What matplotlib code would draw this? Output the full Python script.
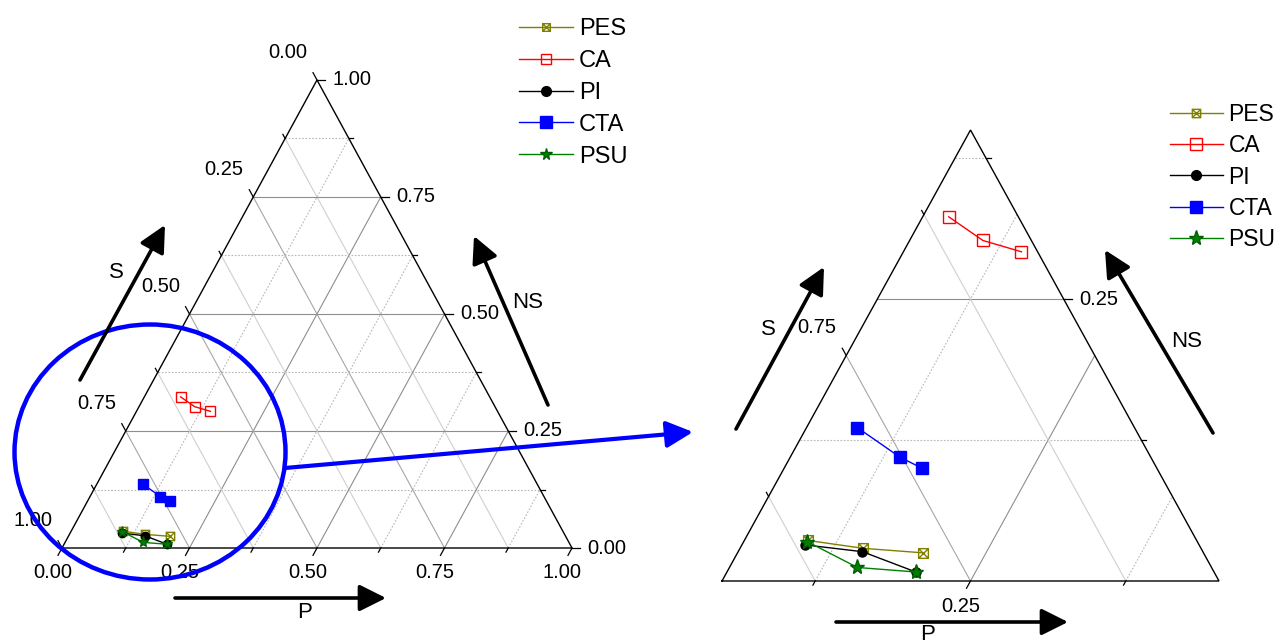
import numpy as np
import matplotlib
matplotlib.use("Agg")
import matplotlib.pyplot as plt
from matplotlib.path import Path
from matplotlib.patches import Ellipse, FancyArrowPatch
from matplotlib.legend_handler import HandlerLine2D

plt.rcParams['font.family'] = ['Liberation Sans', 'DejaVu Sans']

# ---------------- data (ternary compositions: P, NS; S = 1 - P - NS) -------------
series_names = ['PES', 'CA', 'PI', 'CTA', 'PSU']
PES_P = [0.101, 0.149, 0.199]
PES_NS = [0.036, 0.029, 0.025]
CA_P = [0.071, 0.109, 0.145]
CA_NS = [0.323, 0.302, 0.292]
PI_P = [0.101, 0.150, 0.202]
PI_NS = [0.032, 0.026, 0.008]
CTA_P = [0.091, 0.138, 0.161]
CTA_NS = [0.136, 0.110, 0.100]
PSU_P = [0.101, 0.153, 0.202]
PSU_NS = [0.035, 0.012, 0.008]
PES_S = list(1 - np.array(PES_P) - np.array(PES_NS))
CA_S = list(1 - np.array(CA_P) - np.array(CA_NS))
PI_S = list(1 - np.array(PI_P) - np.array(PI_NS))
CTA_S = list(1 - np.array(CTA_P) - np.array(CTA_NS))
PSU_S = list(1 - np.array(PSU_P) - np.array(PSU_NS))

tick_step = 0.125
label_step = 0.25

W, HP = 1279, 642
fig = plt.figure(figsize=(W / 100, HP / 100), dpi=100)
H = np.sqrt(3) / 2


def cart(P, NS):
    P = np.asarray(P, float)
    NS = np.asarray(NS, float)
    return P + NS / 2, NS * H


# square-with-X marker
box_x = Path([(-1, -1), (1, -1), (1, 1), (-1, 1), (-1, -1), (-1, -1), (1, 1), (-1, 1), (1, -1)],
             [Path.MOVETO, Path.LINETO, Path.LINETO, Path.LINETO, Path.CLOSEPOLY,
              Path.MOVETO, Path.LINETO, Path.MOVETO, Path.LINETO])

styles = {
    'PES': dict(color='#808000', marker=box_x, mfc='none', mec='#808000'),
    'CA': dict(color='#ff0000', marker='s', mfc='none', mec='#ff0000'),
    'PI': dict(color='black', marker='o', mfc='black', mec='black'),
    'CTA': dict(color='#0000ff', marker='s', mfc='#0000ff', mec='#0000ff'),
    'PSU': dict(color='#008000', marker='*', mfc='#008000', mec='#006000'),
}
data = {'PES': (PES_P, PES_NS), 'CA': (CA_P, CA_NS), 'PI': (PI_P, PI_NS),
        'CTA': (CTA_P, CTA_NS), 'PSU': (PSU_P, PSU_NS)}


def ternary(px_l, px_b, px_r, px_t, p0, n0, r, ends, msizes, fs=14.5):
    s0 = 1 - p0 - n0 - r
    ax = fig.add_axes([px_l / W, 1 - px_b / HP, (px_r - px_l) / W, (px_b - px_t) / HP])
    x0 = p0 + n0 / 2
    ax.set_xlim(x0, x0 + r)
    ax.set_ylim(n0 * H, (n0 + r) * H)
    ax.axis('off')
    scale = (px_r - px_l) / r  # px per composition unit
    vals = np.round(np.arange(0, 1 + 1e-9, tick_step), 6)
    eps = 1e-9
    # grid
    for v in vals:
        major = abs(v / label_step - round(v / label_step)) < 1e-6
        # NS = v (horizontal)
        if n0 + eps < v < n0 + r - eps:
            x, y = cart([p0, 1 - s0 - v], [v, v])
            if major:
                ax.plot(x, y, color='#8e8e8e', lw=0.8, zorder=1)
            else:
                ax.plot(x, y, color='#b8b8b8', lw=0.8, ls=(0, (1.5, 1.5)), zorder=1)
        # P = v
        if p0 + eps < v < p0 + r - eps:
            x, y = cart([v, v], [n0, 1 - s0 - v])
            if major:
                ax.plot(x, y, color='#8e8e8e', lw=0.8, zorder=1)
            else:
                ax.plot(x, y, color='#b8b8b8', lw=0.8, ls=(0, (1.5, 1.5)), zorder=1)
        # S = v
        if s0 + eps < v < s0 + r - eps:
            x, y = cart([p0, 1 - v - n0], [1 - v - p0, n0])
            ax.plot(x, y, color='#a6a6a6' if major else '#cfcfcf', lw=0.8, zorder=1)
    # triangle
    x, y = cart([p0, p0 + r, p0, p0], [n0, n0, n0 + r, n0])
    ax.plot(x, y, color='black', lw=1.0, zorder=3, clip_on=False, solid_joinstyle='miter')
    # ticks + labels
    tM, tm = 8 / scale, 4.5 / scale
    for v in vals:
        major = abs(v / label_step - round(v / label_step)) < 1e-6
        t = tM if major else tm
        lo = (lambda a, b: a - eps <= v <= b + eps) if ends else (lambda a, b: a + eps < v < b - eps)
        # bottom: P
        if lo(p0, p0 + r):
            x, y = cart([v, v], [n0, n0 - t])
            ax.plot(x, y, color='black', lw=0.9, clip_on=False, zorder=3)
            if major:
                bx, by = cart(v, n0)
                ax.annotate(f'{v:.2f}', (bx, by), xytext=(-7, -18), textcoords='offset points',
                            ha='center', va='center', fontsize=fs, annotation_clip=False)
        # left: S
        if lo(s0, s0 + r):
            x, y = cart([p0, p0 - t], [1 - v - p0, 1 - v - p0 + t])
            ax.plot(x, y, color='black', lw=0.9, clip_on=False, zorder=3)
            if major:
                bx, by = cart(p0, 1 - v - p0)
                ax.annotate(f'{v:.2f}', (bx, by), xytext=(-21, 20), textcoords='offset points',
                            ha='center', va='center', fontsize=fs, annotation_clip=False)
        # right: NS
        if lo(n0, n0 + r):
            x, y = cart([1 - s0 - v, 1 - s0 - v + t], [v, v])
            ax.plot(x, y, color='black', lw=0.9, clip_on=False, zorder=3)
            if major:
                bx, by = cart(1 - s0 - v, v)
                ax.annotate(f'{v:.2f}', (bx, by), xytext=(11, 0), textcoords='offset points',
                            ha='left', va='center', fontsize=fs, annotation_clip=False)
    # data
    handles = []
    for name in series_names:
        P, NS = data[name]
        x, y = cart(P, NS)
        st = styles[name]
        ln, = ax.plot(x, y, color=st['color'], lw=1.0, marker=st['marker'], ms=msizes[name],
                      mfc=st['mfc'], mec=st['mec'], mew=1.0, zorder=5, clip_on=False, label=name)
        handles.append(ln)
    return ax, handles


axL, hL = ternary(62, 548, 572, 80, 0.0, 0.0, 1.0, True,
                  {'PES': 6, 'CA': 6.5, 'PI': 6, 'CTA': 7, 'PSU': 8})
axR, hR = ternary(722, 581, 1219, 130, 0.05, 0.0, 0.4, False,
                  {'PES': 7, 'CA': 8.5, 'PI': 6.5, 'CTA': 8.5, 'PSU': 11})


def sized_handler(size):
    def upd(legline, orig):
        legline.update_from(orig)
        legline.set_markersize(size)
    return HandlerLine2D(update_func=upd)


legL_sizes = {'PES': 5.5, 'CA': 7.5, 'PI': 7, 'CTA': 8, 'PSU': 8.5}
legR_sizes = {'PES': 6, 'CA': 8.5, 'PI': 7, 'CTA': 8.5, 'PSU': 11}

# legends
legL = axL.legend(handles=hL, labels=series_names, loc='upper left',
                  bbox_to_anchor=(519 / W, 1 - 18 / HP), bbox_transform=fig.transFigure,
                  frameon=False, borderpad=0, borderaxespad=0, handlelength=2.3,
                  handletextpad=0.25, labelspacing=0.42, fontsize=17,
                  handler_map={h: sized_handler(legL_sizes[n]) for h, n in zip(hL, series_names)})
legR = axR.legend(handles=hR, labels=series_names, loc='upper left',
                  bbox_to_anchor=(1170 / W, 1 - 103 / HP), bbox_transform=fig.transFigure,
                  frameon=False, borderpad=0, borderaxespad=0, handlelength=2.3,
                  handletextpad=0.25, labelspacing=0.36, fontsize=16.5,
                  handler_map={h: sized_handler(legR_sizes[n]) for h, n in zip(hR, series_names)})


def fpos(x, y):
    return (x / W, 1 - y / HP)


def arrow(p, q, color='black', lw=2.6, hl=0.9, hw=0.45, ms=18):
    a = FancyArrowPatch(fpos(*p), fpos(*q), transform=fig.transFigure,
                        arrowstyle=f'-|>,head_length={hl},head_width={hw}',
                        mutation_scale=ms, lw=lw, color=color, zorder=10,
                        shrinkA=0, shrinkB=0)
    fig.add_artist(a)


def ftext(x, y, s, **kw):
    fig.text(*fpos(x, y), s, ha='center', va='center', fontsize=16, **kw)


# axis arrows + titles (left)
arrow((80, 380), (165, 225))
arrow((548, 405), (474, 236))
arrow((175, 598), (386, 598))
ftext(116, 272, 'S')
ftext(528, 303, 'NS')
ftext(305, 612, 'P')
# axis arrows + titles (right)
arrow((736, 429), (824, 267))
arrow((1213, 433), (1105, 250))
arrow((836, 622), (1068, 622))
ftext(768, 330, 'S')
ftext(1187, 342, 'NS')
ftext(928, 634, 'P')

# zoom ellipse and arrow
ell = Ellipse(fpos(150, 452), 271 / W, 255 / HP, transform=fig.transFigure,
              fill=False, ec='#0000ff', lw=3.2, zorder=9)
fig.add_artist(ell)
arrow((285, 468), (693, 432), color='#0000ff', lw=3.0, hl=0.9, hw=0.45, ms=18)

fig.savefig('out.png', dpi=100)
